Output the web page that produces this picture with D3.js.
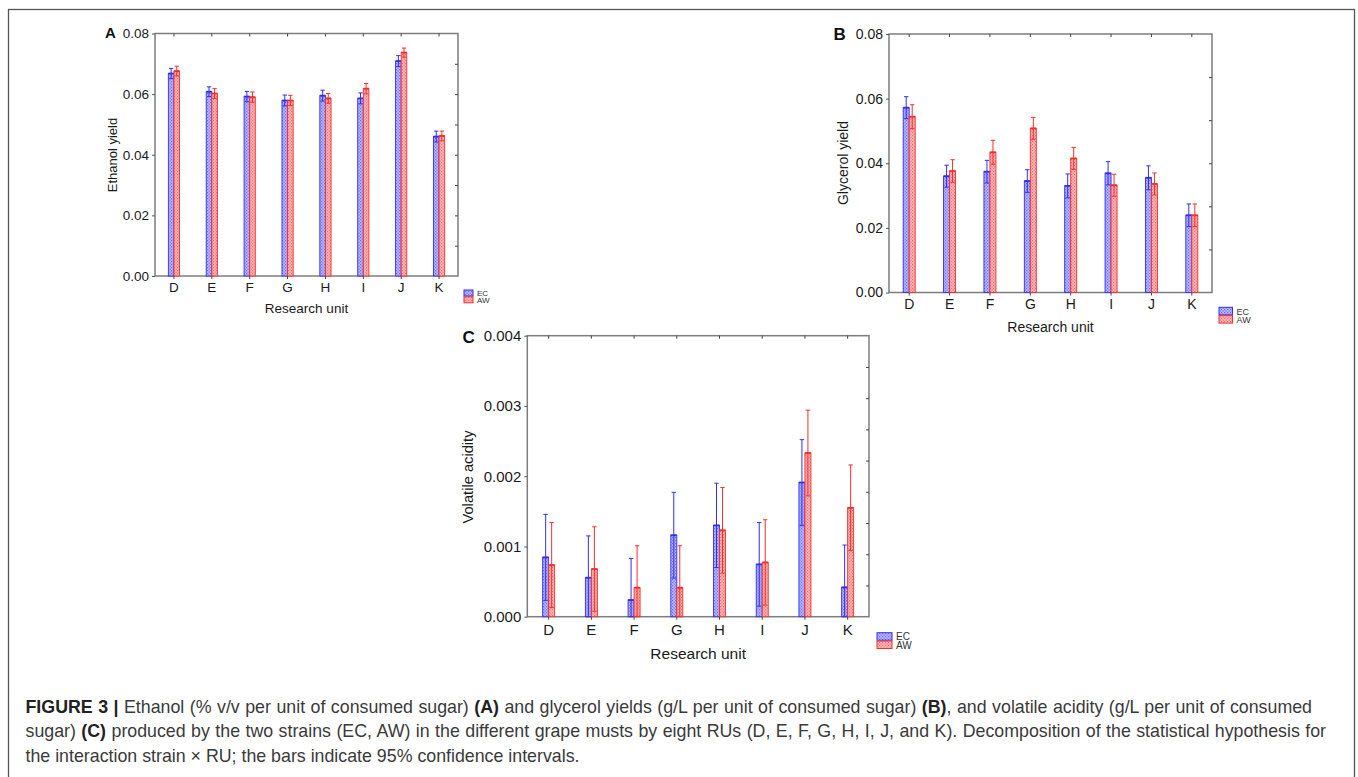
<!DOCTYPE html>
<html>
<head>
<meta charset="utf-8">
<script src="https://cdn.jsdelivr.net/npm/d3@7"></script>
<style>
  body { margin: 0; background: #fff; }
  svg { display: block; font-family: "Liberation Sans", Arial, sans-serif; }
</style>
</head>
<body>
<svg id="fig" width="1358" height="777"></svg>
<script>
(() => {

// research units and strains
const units = ['D', 'E', 'F', 'G', 'H', 'I', 'J', 'K'];
const strains = ['EC', 'AW'];

// panel A - ethanol yield (mean and upper 95% limit)
const ethanolEC   = [0.0668, 0.0608, 0.0592, 0.0579, 0.0595, 0.0586, 0.0709, 0.0460];
const ethanolECHi = [0.0685, 0.0624, 0.0609, 0.0597, 0.0613, 0.0604, 0.0727, 0.0478];
const ethanolAW   = [0.0676, 0.0602, 0.0590, 0.0579, 0.0586, 0.0618, 0.0737, 0.0462];
const ethanolAWHi = [0.0692, 0.0618, 0.0607, 0.0596, 0.0602, 0.0635, 0.0752, 0.0478];

// panel B - glycerol yield
const glycerolEC   = [0.0572, 0.0360, 0.0374, 0.0345, 0.0330, 0.0369, 0.0355, 0.0239];
const glycerolECHi = [0.0606, 0.0394, 0.0409, 0.0380, 0.0367, 0.0405, 0.0392, 0.0274];
const glycerolAW   = [0.0544, 0.0376, 0.0434, 0.0508, 0.0415, 0.0332, 0.0336, 0.0239];
const glycerolAWHi = [0.0581, 0.0411, 0.0471, 0.0542, 0.0449, 0.0366, 0.0370, 0.0274];

// panel C - volatile acidity
const acidityEC   = [0.000845, 0.000555, 0.000237, 0.00116, 0.00130, 0.000745, 0.00191, 0.000418];
const acidityECHi = [0.001457, 0.00115, 0.00083, 0.00177, 0.00190, 0.00134, 0.00252, 0.00102];
const acidityAW   = [0.000735, 0.000679, 0.000413, 0.000413, 0.00123, 0.000773, 0.00233, 0.00155];
const acidityAWHi = [0.00134, 0.00128, 0.00101, 0.00101, 0.00184, 0.00138, 0.00294, 0.00216];

// y tick labels
const yieldTicks = [0, 0.02, 0.04, 0.06, 0.08];
const acidityTicks = [0, 0.001, 0.002, 0.003, 0.004];

const caption = [
    [['FIGURE 3 | ', true], ['Ethanol (% v/v per unit of consumed sugar) ', false], ['(A)', true],
     [' and glycerol yields (g/L per unit of consumed sugar) ', false], ['(B)', true],
     [', and volatile acidity (g/L per unit of consumed', false]],
    [['sugar) ', false], ['(C)', true],
     [' produced by the two strains (EC, AW) in the different grape musts by eight RUs (D, E, F, G, H, I, J, and K). Decomposition of the statistical hypothesis for', false]],
    [['the interaction strain \u00d7 RU; the bars indicate 95% confidence intervals.', false]]
];
// right edge of justified caption lines (last line is not justified)
const caption_ends = [1312, 1326, null];

const fill_colors = {EC: '#b9b9ff', AW: '#ffb9b9'};
const dot_colors = {EC: '#6b6bff', AW: '#ff6b6b'};
const line_colors = {EC: '#2f2ff2', AW: '#f22f2f'};

let svg = d3.select('#fig');

// outer frame of the figure
svg.append('rect')
    .attr('x', 8.5).attr('y', 9.5)
    .attr('width', 1346).attr('height', 820)
    .attr('fill', 'none')
    .attr('stroke', '#555')
    .attr('stroke-width', 1.3);

// dotted fills
let defs = svg.append('defs');
for (const s of strains) {
    let pat = defs.append('pattern')
        .attr('id', 'pat' + s)
        .attr('width', 3).attr('height', 3)
        .attr('patternUnits', 'userSpaceOnUse');
    pat.append('rect').attr('width', 3).attr('height', 3).attr('fill', fill_colors[s]);
    pat.append('rect').attr('width', 1.2).attr('height', 1.2).attr('fill', dot_colors[s]);
    pat.append('rect').attr('x', 1.5).attr('y', 1.5).attr('width', 1.2).attr('height', 1.2).attr('fill', dot_colors[s]);
}

function draw_panel(p) {
    let g = svg.append('g');

    let x_scale = d3.scaleBand().domain(units).range([p.left, p.right]);
    let y_scale = d3.scaleLinear().domain([0, p.ymax]).range([p.bottom, p.top]);
    let sub_scale = d3.scaleBand().domain(strains).range([-p.bar_w, p.bar_w]);
    let cx = (u) => x_scale(u) + x_scale.bandwidth() / 2;

    // frame
    g.append('rect')
        .attr('x', p.left).attr('y', p.top)
        .attr('width', p.right - p.left).attr('height', p.bottom - p.top)
        .attr('fill', 'none')
        .attr('stroke', '#7d7d7d')
        .attr('stroke-width', 1.5);

    // left axis
    let y_axis = g.append('g')
        .attr('transform', `translate(${p.left}, 0)`)
        .call(d3.axisLeft(y_scale).tickValues(p.ticks).tickFormat(d3.format(p.fmt)).tickSize(3).tickPadding(3));
    y_axis.select('.domain').remove();
    y_axis.selectAll('text').style('font-size', p.font + 'px').attr('fill', '#1a1a1a');
    y_axis.selectAll('line').attr('stroke', '#555');

    // right inner ticks
    let right_axis = g.append('g')
        .attr('transform', `translate(${p.right}, 0)`)
        .call(d3.axisRight(y_scale).tickValues(d3.range(1, p.right_n).map(i => p.ymax * i / p.right_n)).tickFormat('').tickSize(-3));
    right_axis.select('.domain').remove();
    right_axis.selectAll('line').attr('stroke', '#444');

    // bottom axis
    let x_axis = g.append('g')
        .attr('transform', `translate(0, ${p.bottom})`)
        .call(d3.axisBottom(x_scale).tickSize(3).tickPadding(p.tick_pad));
    x_axis.select('.domain').remove();
    x_axis.selectAll('text').style('font-size', p.font + 'px').attr('fill', '#1a1a1a');
    x_axis.selectAll('line').attr('stroke', '#444');

    // top inner ticks
    let top_axis = g.append('g')
        .attr('transform', `translate(0, ${p.top})`)
        .call(d3.axisTop(x_scale).tickFormat('').tickSize(-3));
    top_axis.select('.domain').remove();
    top_axis.selectAll('line').attr('stroke', '#444');

    // bars and confidence intervals
    for (const s of strains) {
        let rows = units.map((u, i) => ({unit: u, m: p.series[s][0][i], hi: p.series[s][1][i]}));
        let sg = g.append('g');
        let bx = (d) => cx(d.unit) + sub_scale(s);
        let mid = (d) => bx(d) + sub_scale.bandwidth() / 2;
        let lo = (d) => Math.max(0, 2 * d.m - d.hi);

        sg.selectAll('.bar')
            .data(rows)
            .enter()
            .append('rect')
            .attr('x', bx)
            .attr('y', (d) => y_scale(d.m))
            .attr('width', sub_scale.bandwidth())
            .attr('height', (d) => y_scale(0) - y_scale(d.m))
            .attr('fill', `url(#pat${s})`)
            .attr('stroke', line_colors[s])
            .attr('stroke-width', 0.9);

        // whisker
        sg.selectAll('.whisker')
            .data(rows)
            .enter()
            .append('line')
            .attr('x1', mid).attr('x2', mid)
            .attr('y1', (d) => y_scale(lo(d)))
            .attr('y2', (d) => y_scale(d.hi))
            .attr('stroke', line_colors[s])
            .attr('stroke-width', 1);

        // caps
        for (const k of ['hi', 'lo']) {
            sg.selectAll('.cap' + k)
                .data(rows)
                .enter()
                .append('line')
                .attr('x1', (d) => mid(d) - 2.2).attr('x2', (d) => mid(d) + 2.2)
                .attr('y1', (d) => y_scale(k == 'hi' ? d.hi : lo(d)))
                .attr('y2', (d) => y_scale(k == 'hi' ? d.hi : lo(d)))
                .attr('stroke', line_colors[s])
                .attr('stroke-width', 1);
        }

        // mean line
        sg.selectAll('.mean')
            .data(rows)
            .enter()
            .append('line')
            .attr('x1', bx).attr('x2', (d) => bx(d) + sub_scale.bandwidth())
            .attr('y1', (d) => y_scale(d.m)).attr('y2', (d) => y_scale(d.m))
            .attr('stroke', line_colors[s])
            .attr('stroke-width', 1.8);
    }

    // titles
    g.append('text')
        .attr('x', (p.left + p.right) / 2 + p.xt_dx)
        .attr('y', p.xt_y)
        .attr('text-anchor', 'middle')
        .style('font-size', p.title_font + 'px')
        .attr('fill', '#1a1a1a')
        .text('Research unit');

    g.append('text')
        .attr('transform', `translate(${p.yt_x}, ${p.yt_y}) rotate(-90)`)
        .attr('text-anchor', 'middle')
        .attr('dy', '0.35em')
        .style('font-size', p.ytitle_font + 'px')
        .attr('fill', '#1a1a1a')
        .text(p.ytitle);

    g.append('text')
        .attr('x', p.lab_x).attr('y', p.lab_y)
        .style('font-size', p.lab_font + 'px')
        .style('font-weight', 'bold')
        .attr('fill', '#111')
        .text(p.label);

    // legend
    strains.forEach((s, i) => {
        g.append('rect')
            .attr('x', p.leg_x).attr('y', p.leg_y + i * p.leg_h)
            .attr('width', p.leg_w).attr('height', p.leg_h - 0.8)
            .attr('fill', `url(#pat${s})`)
            .attr('stroke', line_colors[s])
            .attr('stroke-width', 1);
        g.append('text')
            .attr('x', p.leg_x + p.leg_w + 4)
            .attr('y', p.leg_y + i * p.leg_h + p.leg_h / 2)
            .attr('dy', '0.36em')
            .style('font-size', p.leg_font + 'px')
            .attr('fill', '#333')
            .text(s);
    });
}

draw_panel({
    label: 'A', ytitle: 'Ethanol yield',
    left: 155, right: 458, top: 33.5, bottom: 276,
    ymax: 0.08, ticks: yieldTicks, fmt: '.2f', right_n: 8,
    bar_w: 5.6, font: 13.5, tick_pad: 3, title_font: 13.5, ytitle_font: 13,
    xt_dx: 0, xt_y: 312.5, yt_x: 112, yt_y: 155,
    lab_x: 105, lab_y: 38, lab_font: 15,
    leg_x: 464, leg_y: 290, leg_w: 9, leg_h: 6.8, leg_font: 8,
    series: {EC: [ethanolEC, ethanolECHi], AW: [ethanolAW, ethanolAWHi]}
});

draw_panel({
    label: 'B', ytitle: 'Glycerol yield',
    left: 889, right: 1212, top: 34, bottom: 292.5,
    ymax: 0.08, ticks: yieldTicks, fmt: '.2f', right_n: 6,
    bar_w: 6, font: 14, tick_pad: 4, title_font: 14, ytitle_font: 14,
    xt_dx: 0, xt_y: 331.5, yt_x: 843, yt_y: 163,
    lab_x: 833.5, lab_y: 40, lab_font: 17,
    leg_x: 1219, leg_y: 307.3, leg_w: 13.5, leg_h: 8.3, leg_font: 9,
    series: {EC: [glycerolEC, glycerolECHi], AW: [glycerolAW, glycerolAWHi]}
});

draw_panel({
    label: 'C', ytitle: 'Volatile acidity',
    left: 527.3, right: 869, top: 335.7, bottom: 616.7,
    ymax: 0.004, ticks: acidityTicks, fmt: '.3f', right_n: 9,
    bar_w: 6, font: 15, tick_pad: 5, title_font: 15.5, ytitle_font: 14.7,
    xt_dx: 0, xt_y: 659, yt_x: 468, yt_y: 477,
    lab_x: 462.5, lab_y: 342.5, lab_font: 17,
    leg_x: 877, leg_y: 632.7, leg_w: 15, leg_h: 8.3, leg_font: 10,
    series: {EC: [acidityEC, acidityECHi], AW: [acidityAW, acidityAWHi]}
});

// caption, first two lines justified
let cap = svg.append('g');
const cap_left = 25.5;
caption.forEach((line, i) => {
    let t = cap.append('text')
        .attr('x', cap_left)
        .attr('y', 713 + i * 24.3)
        .style('font-size', '17.8px')
        .attr('fill', '#3a3a3a');
    for (const [txt, bold] of line) {
        t.append('tspan')
            .style('font-weight', bold ? 'bold' : 'normal')
            .attr('fill', bold ? '#222' : '#3a3a3a')
            .text(txt);
    }
    if (caption_ends[i]) {
        let natural = t.node().getComputedTextLength();
        let gaps = line.map(d => d[0]).join('').split(' ').length - 1;
        let extra = (caption_ends[i] - cap_left - natural) / gaps;
        t.style('word-spacing', extra + 'px');
    }
});

})();
</script>
</body>
</html>
